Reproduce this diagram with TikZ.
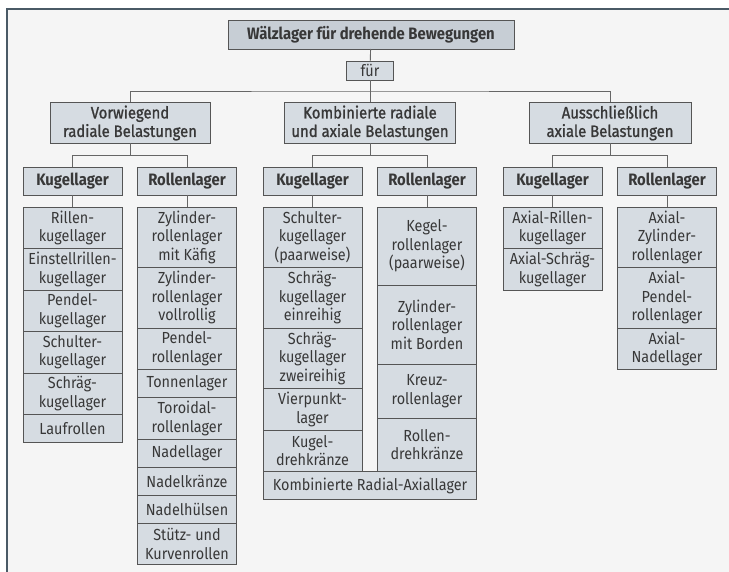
\documentclass[tikz,border=0pt]{standalone}
\usepackage{fontspec}
\setmainfont{Fira Sans}[FakeStretch=0.9]
\newfontfamily\medfont{Fira Sans}[FakeStretch=0.9, FakeBold=1.2]
\usetikzlibrary{positioning}

\definecolor{framec}{HTML}{4A5A66}
\definecolor{panel}{HTML}{F5F5F5}
\definecolor{boxfill}{HTML}{D6DCE2}
\definecolor{topfill}{HTML}{C7CED5}
\definecolor{linec}{HTML}{555555}
\definecolor{textc}{HTML}{383838}

\begin{document}
\begin{tikzpicture}[
  x=1pt, y=-1pt,
  every node/.style={text=textc, outer sep=0pt},
  box/.style={draw=linec, line width=0.9pt, fill=boxfill, align=center, inner sep=1pt,
              minimum width=99pt, minimum height=41.5pt,
              font=\fontsize{16}{18.5}\selectfont},
  tall/.style={minimum height=60.5pt},
  short/.style={minimum height=28pt},
  title/.style={box, fill=topfill, minimum width=286pt, minimum height=29pt,
                font=\fontsize{16.5}{18.5}\selectfont\bfseries},
  group/.style={box, minimum height=41pt, font=\fontsize{16.5}{18.5}\selectfont\medfont},
  head/.style={box, minimum height=28pt, font=\fontsize{16.5}{18.5}\selectfont\bfseries},
  conn/.style={draw=linec!90, line width=0.9pt}
]
% frame
\useasboundingbox (0,0) rectangle (729,572);
\fill[white] (0,0) rectangle (729,572);
\fill[panel] (6,8) rectangle (729,572);
\draw[framec, line width=2.4pt] (7,572) -- (7,9) -- (729,9);

% top levels
\node[title] (top) at (371,34.5) {Wälzlager für drehende Bewegungen};
\node[box, minimum width=47pt, minimum height=19pt] (fuer) at (370,70.5) {für};
\node[group, minimum width=160pt] (g1) at (130,123) {Vorwiegend\\radiale Belastungen};
\node[group, minimum width=171pt] (g2) at (370,123) {Kombinierte radiale\\und axiale Belastungen};
\node[group, minimum width=162pt] (g3) at (610,123) {Ausschließlich\\axiale Belastungen};

% bearing types
\node[head] (k1) at (72.5,181) {Kugellager};
\node[head] (r1) at (187,181) {Rollenlager};
\node[head] (k2) at (312.5,181) {Kugellager};
\node[head] (r2) at (427,181) {Rollenlager};
\node[head] (k3) at (552.5,181) {Kugellager};
\node[head] (r3) at (667,181) {Rollenlager};

% radial, ball
\node[box, below=12pt of k1] (a1) {Rillen-\\kugellager};
\node[box, below=0pt of a1] (a2) {Einstellrillen-\\kugellager};
\node[box, below=0pt of a2] (a3) {Pendel-\\kugellager};
\node[box, below=0pt of a3] (a4) {Schulter-\\kugellager};
\node[box, below=0pt of a4] (a5) {Schräg-\\kugellager};
\node[box, short, below=0pt of a5] (a6) {Laufrollen};

% radial, roller
\node[box, tall, below=12pt of r1] (b1) {Zylinder-\\rollenlager\\mit Käfig};
\node[box, tall, below=0pt of b1] (b2) {Zylinder-\\rollenlager\\vollrollig};
\node[box, below=0pt of b2] (b3) {Pendel-\\rollenlager};
\node[box, short, below=0pt of b3] (b4) {Tonnenlager};
\node[box, below=0pt of b4] (b5) {Toroidal-\\rollenlager};
\node[box, short, below=0pt of b5] (b6) {Nadellager};
\node[box, short, below=0pt of b6] (b7) {Nadelkränze};
\node[box, short, below=0pt of b7] (b8) {Nadelhülsen};
\node[box, below=0pt of b8] (b9) {Stütz- und\\Kurvenrollen};

% combined, ball
\node[box, tall, below=12pt of k2] (c1) {Schulter-\\kugellager\\(paarweise)};
\node[box, tall, below=0pt of c1] (c2) {Schräg-\\kugellager\\einreihig};
\node[box, tall, below=0pt of c2] (c3) {Schräg-\\kugellager\\zweireihig};
\node[box, below=0pt of c3] (c4) {Vierpunkt-\\lager};
\node[box, below=0pt of c4] (c5) {Kugel-\\drehkränze};

% combined, roller
\node[box, minimum height=78pt, below=12pt of r2] (d1) {Kegel-\\rollenlager\\(paarweise)};
\node[box, minimum height=79pt, below=0pt of d1] (d2) {Zylinder-\\rollenlager\\mit Borden};
\node[box, minimum height=54pt, below=0pt of d2] (d3) {Kreuz-\\rollenlager};
\node[box, minimum height=53pt, below=0pt of d3] (d4) {Rollen-\\drehkränze};
\node[box, short, minimum width=213.5pt, anchor=north] (kra) at (c5.south -| g2)
  {Kombinierte Radial-Axiallager};

% axial
\node[box, below=12pt of k3] (e1) {Axial-Rillen-\\kugellager};
\node[box, below=0pt of e1] (e2) {Axial-Schräg-\\kugellager};
\node[box, tall, below=12pt of r3] (f1) {Axial-\\Zylinder-\\rollenlager};
\node[box, tall, below=0pt of f1] (f2) {Axial-\\Pendel-\\rollenlager};
\node[box, below=0pt of f2] (f3) {Axial-\\Nadellager};

% connectors
\draw[conn] (top) -- (fuer);
\coordinate (bus) at (370,91);
\draw[conn] (fuer) -- (bus);
\draw[conn] (g1.north) |- (bus) -| (g3.north);
\draw[conn] (bus) -- (g2.north);
\foreach \g/\k/\r in {g1/k1/r1, g2/k2/r2, g3/k3/r3} {
  \draw[conn] (\g.south) -- ++(0,12) coordinate (\g-fork);
  \draw[conn] (\k.north) |- (\g-fork) -| (\r.north);
}
\draw[conn] (k1) -- (a1);
\draw[conn] (r1) -- (b1);
\draw[conn] (k2) -- (c1);
\draw[conn] (r2) -- (d1);
\draw[conn] (k3) -- (e1);
\draw[conn] (r3) -- (f1);
\end{tikzpicture}
\end{document}
